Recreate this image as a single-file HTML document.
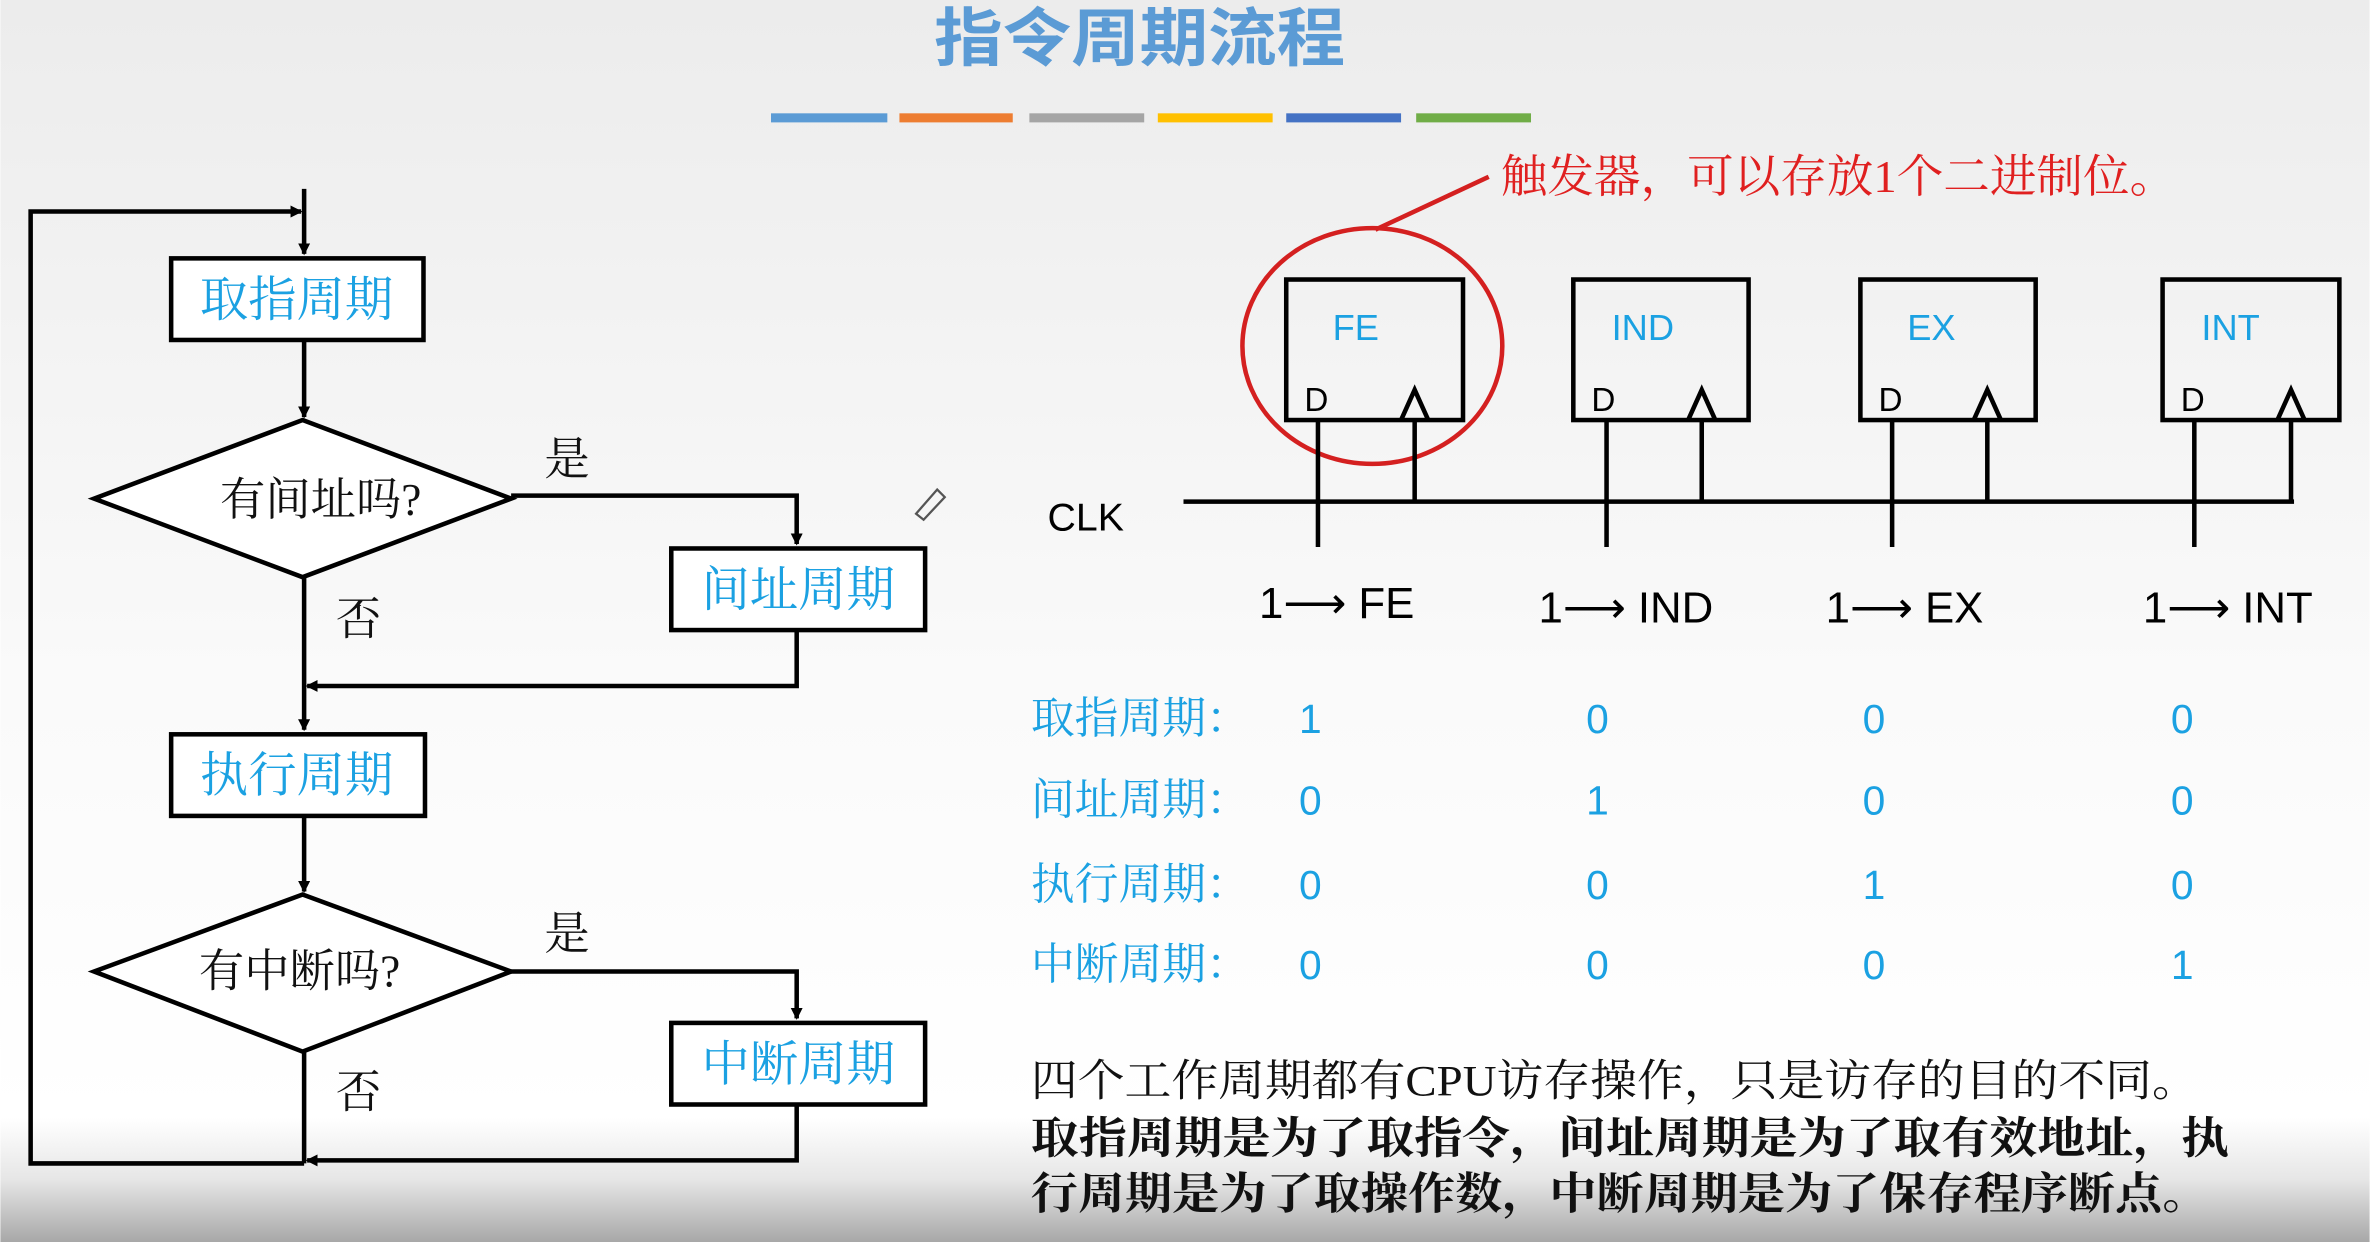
<!DOCTYPE html>
<html><head><meta charset="utf-8"><style>
html,body{margin:0;padding:0;width:2370px;height:1242px;overflow:hidden;background:#fff}
svg{display:block}
.cn{font-family:"Liberation Serif","Noto Serif CJK SC",serif}
.sn{font-family:"Liberation Sans","Noto Sans CJK SC",sans-serif}
</style></head><body>
<svg width="2370" height="1242" viewBox="0 0 1568 822" xmlns="http://www.w3.org/2000/svg">
<defs>
<linearGradient id="bg" x1="0" y1="0" x2="0" y2="1">
<stop offset="0" stop-color="#ececec"/><stop offset="0.55" stop-color="#fafafa"/><stop offset="0.9" stop-color="#ffffff"/><stop offset="0.95" stop-color="#e6e6e6"/><stop offset="1" stop-color="#a8a8a8"/>
</linearGradient>
<marker id="a" markerWidth="8" markerHeight="8" refX="7" refY="4" orient="auto" markerUnits="userSpaceOnUse"><path d="M0,0 L8,4 L0,8 Z" fill="#000"/></marker>
</defs>
<rect width="1568" height="822" fill="url(#bg)"/>
<text x="618" y="40" textLength="272" lengthAdjust="spacingAndGlyphs" class="sn" font-size="42" fill="#5b9bd5" font-weight="bold">指令周期流程</text>
<rect x="510" y="75" width="77" height="6" fill="#5b9bd5"/>
<rect x="595" y="75" width="75" height="6" fill="#ed7d31"/>
<rect x="681" y="75" width="76" height="6" fill="#a5a5a5"/>
<rect x="766" y="75" width="76" height="6" fill="#ffc000"/>
<rect x="851" y="75" width="76" height="6" fill="#4472c4"/>
<rect x="937" y="75" width="76" height="6" fill="#70ad47"/>

<g stroke="#000" stroke-width="3" fill="none">
<polyline points="201,770 20,770 20,140 199,140" marker-end="url(#a)"/>
<line x1="201" y1="125" x2="201" y2="168" marker-end="url(#a)"/>
<rect x="113" y="171" width="167" height="54" fill="#fff"/>
<line x1="201" y1="225" x2="201" y2="276" marker-end="url(#a)"/>
<polygon points="62,330 200,278 338,330 200,382" fill="#fff"/>
<polyline points="338,328 527,328 527,360" marker-end="url(#a)"/>
<rect x="444" y="363" width="168" height="54" fill="#fff"/>
<polyline points="527,417 527,454 203,454" marker-end="url(#a)"/>
<line x1="201" y1="382" x2="201" y2="483" marker-end="url(#a)"/>
<rect x="113" y="486" width="168" height="54" fill="#fff"/>
<line x1="201" y1="540" x2="201" y2="590" marker-end="url(#a)"/>
<polygon points="62,643 200,592 338,643 200,696" fill="#fff"/>
<polyline points="338,643 527,643 527,674" marker-end="url(#a)"/>
<rect x="444" y="677" width="168" height="54" fill="#fff"/>
<polyline points="527,731 527,768 203,768" marker-end="url(#a)"/>
<line x1="201" y1="696" x2="201" y2="770"/>
</g>
<g class="cn" font-size="32" fill="#1ba1e2" text-anchor="middle">
<text x="196" y="209">取指周期</text>
<text x="528" y="401">间址周期</text>
<text x="196" y="524">执行周期</text>
<text x="528" y="715">中断周期</text>
</g>
<g class="cn" font-size="30" fill="#111">
<text x="212" y="341" text-anchor="middle">有间址吗?</text>
<text x="198" y="653" text-anchor="middle">有中断吗?</text>
<text x="360" y="314">是</text>
<text x="360" y="628">是</text>
<text x="222" y="420">否</text>
<text x="222" y="733">否</text>
</g>
<path d="M606,340 L620,324 L625,329 L611,344 Z" fill="none" stroke="#555" stroke-width="1.5"/>

<text x="993" y="127" textLength="447" lengthAdjust="spacingAndGlyphs" class="cn" font-size="30" fill="#e02020">触发器，可以存放1个二进制位。</text>
<line x1="985" y1="117" x2="910" y2="152" stroke="#d42020" stroke-width="3"/>
<ellipse cx="908" cy="229" rx="86" ry="78" fill="none" stroke="#d42020" stroke-width="3"/>

<g stroke="#000" stroke-width="3" fill="none">
<line x1="783" y1="332" x2="1518" y2="332"/>
<rect x="851" y="185" width="117" height="93"/>
<rect x="1041" y="185" width="116" height="93"/>
<rect x="1231" y="185" width="116" height="93"/>
<rect x="1431" y="185" width="117" height="93"/>
<polyline points="927,278 936,258 945,278"/>
<polyline points="1117,278 1126,258 1135,278"/>
<polyline points="1306,278 1315,258 1324,278"/>
<polyline points="1507,278 1516,258 1525,278"/>
<line x1="936" y1="278" x2="936" y2="332"/>
<line x1="1126" y1="278" x2="1126" y2="332"/>
<line x1="1315" y1="278" x2="1315" y2="332"/>
<line x1="1516" y1="278" x2="1516" y2="332"/>
<line x1="872" y1="278" x2="872" y2="362"/>
<line x1="1063" y1="278" x2="1063" y2="362"/>
<line x1="1252" y1="278" x2="1252" y2="362"/>
<line x1="1452" y1="278" x2="1452" y2="362"/>
</g>
<g class="sn" font-size="24" fill="#1ba1e2">
<text x="897" y="225" text-anchor="middle">FE</text>
<text x="1087" y="225" text-anchor="middle">IND</text>
<text x="1278" y="225" text-anchor="middle">EX</text>
<text x="1476" y="225" text-anchor="middle">INT</text>
</g>
<g class="sn" font-size="22" fill="#000">
<text x="863" y="272">D</text><text x="1053" y="272">D</text><text x="1243" y="272">D</text><text x="1443" y="272">D</text>
<text x="693" y="351" font-size="26">CLK</text>
</g>
<g class="sn" font-size="29" fill="#000">
<text x="833" y="409">1⟶ FE</text>
<text x="1018" y="412">1⟶ IND</text>
<text x="1208" y="412">1⟶ EX</text>
<text x="1418" y="412">1⟶ INT</text>
</g>
<g class="cn" font-size="29" fill="#1ba1e2">
<text x="682" y="485">取指周期：</text>
<text x="682" y="539">间址周期：</text>
<text x="682" y="595">执行周期：</text>
<text x="682" y="648">中断周期：</text>
</g>
<g class="sn" font-size="27" fill="#1ba1e2" text-anchor="middle">
<text x="867" y="485">1</text><text x="1057" y="485">0</text><text x="1240" y="485">0</text><text x="1444" y="485">0</text>
<text x="867" y="539">0</text><text x="1057" y="539">1</text><text x="1240" y="539">0</text><text x="1444" y="539">0</text>
<text x="867" y="595">0</text><text x="1057" y="595">0</text><text x="1240" y="595">1</text><text x="1444" y="595">0</text>
<text x="867" y="648">0</text><text x="1057" y="648">0</text><text x="1240" y="648">0</text><text x="1444" y="648">1</text>
</g>
<g class="cn" font-size="29" fill="#111">
<text x="682" y="725" textLength="773" lengthAdjust="spacingAndGlyphs">四个工作周期都有CPU访存操作，只是访存的目的不同。</text>
<text x="682" y="763" textLength="793" lengthAdjust="spacingAndGlyphs" font-weight="bold">取指周期是为了取指令，间址周期是为了取有效地址，执</text>
<text x="682" y="800" textLength="780" lengthAdjust="spacingAndGlyphs" font-weight="bold">行周期是为了取操作数，中断周期是为了保存程序断点。</text>
</g>
</svg>
</body></html>
